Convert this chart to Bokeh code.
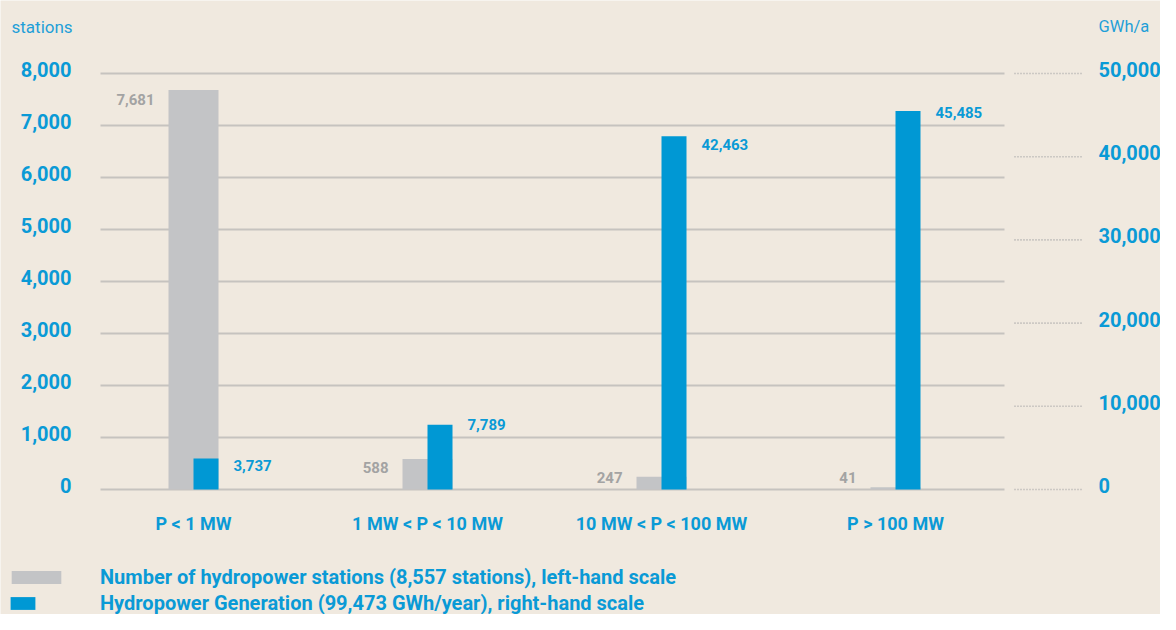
from bokeh.plotting import figure
from bokeh.models import Range1d, Legend, LegendItem, ColumnDataSource
from bokeh.embed import file_html
from bokeh.resources import INLINE
from bokeh.core.properties import value

# ---------------- data ----------------
categories = ["P < 1 MW", "1 MW < P < 10 MW", "10 MW < P < 100 MW", "P > 100 MW"]
stations = [7681, 588, 247, 41]
generation = [3737, 7789, 42463, 45485]
station_ticks = [0, 1000, 2000, 3000, 4000, 5000, 6000, 7000, 8000]
generation_ticks = [0, 10000, 20000, 30000, 40000, 50000]
legend_labels = ["Number of hydropower stations (8,557 stations), left-hand scale",
                 "Hydropower Generation (99,473 GWh/year), right-hand scale"]
unit_labels = ["stations", "GWh/a"]

# ---------------- style / layout ----------------
FONT = "Roboto"
BG = "#f0e9df"
BLUE = "#0098d4"
BLUE_TXT = "#0a9ad6"
UNIT_TXT = "#1f9fd8"
GRAY = "#c3c4c6"
GRAY_TXT = "#a3a3a3"
GRID = "#c6c3bf"

W, H = 1160, 614
CAT0_PX = 193            # pixel column of first category centre
PX_X = 234.0             # pixels per category
Y0_PX, Y8K_PX = 489, 73  # pixel rows of 0 and 8,000 stations
PX_Y = (Y0_PX - Y8K_PX) / 8000.0
GEN_PER_ST = 50000 / 8000.0


def px2x(px):
    return (px - CAT0_PX) / PX_X


def px2y(py):
    return (Y0_PX - py) / PX_Y


x_start, x_end = px2x(0), px2x(W)
y_start, y_end = px2y(H), px2y(0)

GRAY_W = 50 / PX_X
BLUE_W = 25 / PX_X
BLUE_OFF = 12.5 / PX_X

p = figure(width=W, height=H, output_backend="svg", toolbar_location=None,
           x_range=Range1d(x_start, x_end), y_range=Range1d(y_start, y_end),
           min_border=0, x_axis_location=None, y_axis_location=None,
           background_fill_color=BG, border_fill_color=BG, outline_line_color=None)
p.extra_y_ranges = {"gwh": Range1d(y_start * GEN_PER_ST, y_end * GEN_PER_ST)}
p.xgrid.visible = False
p.ygrid.visible = False

xs = list(range(len(categories)))

# horizontal grid lines on the left scale
n1 = len(station_ticks)
p.segment(x0=[px2x(100)] * n1, x1=[px2x(1004)] * n1, y0=station_ticks,
          y1=station_ticks, line_color=GRID, line_width=2)
# dotted guides on the right scale
n2 = len(generation_ticks)
p.segment(x0=[px2x(1014)] * n2, x1=[px2x(1083)] * n2, y0=generation_ticks,
          y1=generation_ticks, y_range_name="gwh", line_color="#a9a9a9",
          line_width=1.6, line_dash="1 2")

# bars
src_s = ColumnDataSource(dict(x=xs, top=stations))
src_g = ColumnDataSource(dict(x=[x + BLUE_OFF for x in xs], top=generation))
r_gray = p.vbar(x="x", top="top", bottom=0, width=GRAY_W, source=src_s,
                fill_color=GRAY, line_color=None)
r_blue = p.vbar(x="x", top="top", bottom=0, width=BLUE_W, source=src_g,
                y_range_name="gwh", fill_color=BLUE, line_color=None)

# value labels
floor = 21 / PX_Y
p.text(x=[x - GRAY_W / 2 for x in xs], y=[max(v, floor) for v in stations],
       text=[f"{v:,}" for v in stations], x_offset=-14, y_offset=9,
       text_align="right", text_baseline="middle", text_color=GRAY_TXT,
       text_font=value(FONT), text_font_style="bold", text_font_size="15px")
blue_dy = [7, 0, 8, 1]
p.text(x=[x + BLUE_OFF + BLUE_W / 2 for x in xs], y=generation,
       text=[f"{v:,}" for v in generation], x_offset=15, y_offset=blue_dy,
       y_range_name="gwh", text_align="left", text_baseline="middle",
       text_color=BLUE_TXT, text_font=value(FONT), text_font_style="bold",
       text_font_size="15px")

# left scale tick labels
p.text(x=[px2x(71)] * n1, y=station_ticks, text=[f"{t:,}" for t in station_ticks],
       y_offset=-4, text_align="right", text_baseline="middle",
       text_color=BLUE_TXT, text_font=value(FONT), text_font_style="bold",
       text_font_size="20px")
# right scale tick labels
p.text(x=[px2x(1098)] * n2, y=generation_ticks,
       text=[f"{t:,}" for t in generation_ticks], y_range_name="gwh",
       y_offset=-4, text_align="left", text_baseline="middle",
       text_color=BLUE_TXT, text_font=value(FONT), text_font_style="bold",
       text_font_size="20px")
# category labels
p.text(x=xs, y=[px2y(523)] * len(xs), text=categories, text_align="center",
       text_baseline="middle", text_color=BLUE_TXT, text_font=value(FONT),
       text_font_style="bold", text_font_size="18px")
# unit labels
p.text(x=[px2x(11), px2x(1098)], y=[px2y(26.7), px2y(26)], text=unit_labels,
       text_align="left", text_baseline="alphabetic", text_color=UNIT_TXT,
       text_font=value(FONT), text_font_size=["17px", "16.5px"])


# legend rows (Bokeh insets area swatches by 10% on each side)
def make_legend(label, renderer, swatch_left, swatch_w, swatch_h, text_left, row_top):
    gw, gh = int(round(swatch_w / 0.8)), int(round(swatch_h / 0.8))
    left = int(round(swatch_left - gw * 0.1))
    lg = Legend(items=[LegendItem(label=label, renderers=[renderer])],
                location=(left, H - row_top - 24), glyph_width=gw, glyph_height=gh,
                label_standoff=int(text_left - (left + gw)), label_height=24,
                padding=0, margin=0, spacing=0, border_line_alpha=0,
                background_fill_alpha=0, label_text_font=FONT,
                label_text_font_style="bold", label_text_font_size="20px",
                label_text_color=BLUE_TXT)
    p.add_layout(lg, "center")


make_legend(legend_labels[0], r_gray, 11, 50, 13, 100, 565)
make_legend(legend_labels[1], r_blue, 10, 25, 13, 100, 591)

open("out.html", "w").write(file_html(p, INLINE))
